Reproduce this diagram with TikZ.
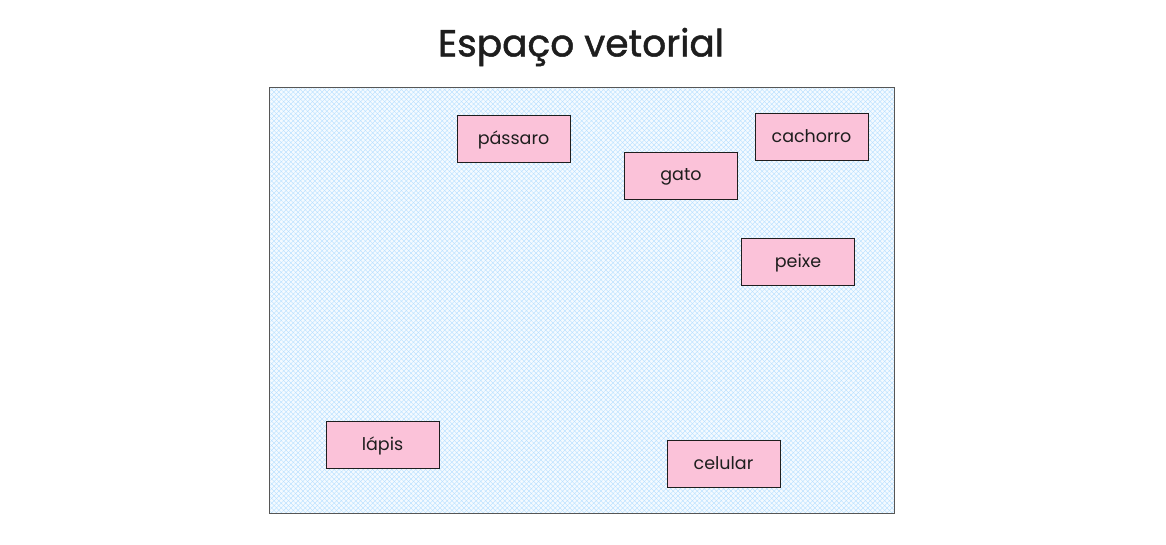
\documentclass[tikz,border=0pt]{standalone}
\usepackage{fontspec}
\setmainfont{Poppins}
\newfontfamily\titlefont[FakeBold=1.3]{Poppins}
\usetikzlibrary{patterns.meta}
\definecolor{pinkfill}{HTML}{FBC2D9}
\definecolor{hatchblue}{HTML}{A5D8FF}
\definecolor{inkdark}{HTML}{1E1E1E}
\begin{document}
\begin{tikzpicture}[x=1pt,y=-1pt,
  wordbox/.style={draw=inkdark,line width=0.9pt,fill=pinkfill,minimum width=113pt,minimum height=47pt,inner sep=0pt,font=\fontsize{17.5}{20}\selectfont,text=inkdark,text depth=1.5pt},
  spacebox/.style={draw=inkdark!75,line width=0.8pt}]
\useasboundingbox[fill=white] (0,0) rectangle (1166,544);
\fill[hatchblue!12] (269,87) rectangle (894,513);
\fill[pattern={Lines[angle=45,distance=3.4pt,line width=0.35pt]},pattern color=hatchblue!85] (269,87) rectangle (894,513);
\fill[pattern={Lines[angle=-45,distance=3.4pt,line width=0.35pt]},pattern color=hatchblue!85] (269,87) rectangle (894,513);
\node[spacebox,minimum width=625pt,minimum height=426pt,inner sep=0pt] (space) at (581.5,300) {};
\node[font=\titlefont\fontsize{37.5}{44}\selectfont,text=inkdark] (title) at (581,47) {Espaço vetorial};
\node[wordbox] (passaro) at (513.5,138.5) {pássaro};
\node[wordbox] (gato) at (681,175.5) {gato};
\node[wordbox] (cachorro) at (811.5,136.5) {cachorro};
\node[wordbox] (peixe) at (798,261.5) {peixe};
\node[wordbox] (lapis) at (382.5,444.5) {lápis};
\node[wordbox] (celular) at (723.5,463.5) {celular};
\end{tikzpicture}
\end{document}
